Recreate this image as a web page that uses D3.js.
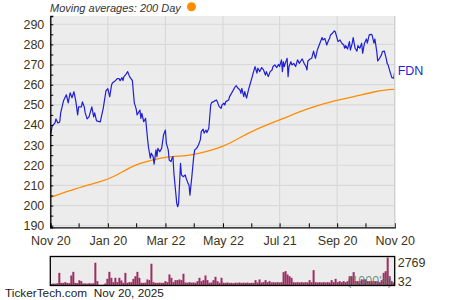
<!DOCTYPE html>
<html><head><meta charset="utf-8">
<script src="https://cdn.jsdelivr.net/npm/d3@7"></script>
<style>html,body{margin:0;padding:0;background:#fff;}svg{display:block;}</style>
</head><body>
<svg id="c" width="450" height="300"></svg>
<script>
// ---- data ----
const startDate = "2024-11-20";
const endDate = "2025-11-20";
const ticker = "FDN";
const tickLabelDates = ["2024-11-20","2025-01-20","2025-03-22","2025-05-22","2025-07-21","2025-09-20","2025-11-20"];
const tickLabels = ["Nov 20","Jan 20","Mar 22","May 22","Jul 21","Sep 20","Nov 20"];
const minorTickDates = ["2024-12-20","2025-02-19","2025-04-21","2025-06-21","2025-08-21","2025-10-20"];
const yTicks = [190,200,210,220,230,240,250,260,270,280,290];
const yMinorTicks = [195,205,215,225,235,245,255,265,275,285];
// price: day offsets from start and closing values
const priceDays = [0,2,5,6,8,10,11,14,17,19,21,23,25,27,29,30,33,34,36,37,39,41,44,46,47,49,53,55,56,57,59,61,63,65,66,69,71,73,74,76,77,78,80,82,84,87,89,91,92,95,96,97,99,101,103,104,106,107,109,110,112,113,114,116,118,120,122,123,125,126,128,129,130,131,133,134,135,136,137,138,139,141,143,144,146,147,148,150,152,153,155,157,159,160,162,163,165,166,168,170,171,173,176,177,179,181,182,184,185,186,189,190,192,194,196,197,199,201,202,203,205,206,208,210,212,213,215,217,219,220,222,224,226,228,229,231,233,235,236,238,240,242,243,245,246,247,248,249,251,252,253,255,256,258,260,262,264,265,267,269,271,272,273,275,277,279,280,281,283,285,287,288,289,291,293,295,296,297,299,301,302,304,305,307,309,311,312,313,315,317,318,320,321,323,325,326,328,330,331,333,335,336,338,340,341,343,344,346,347,349,351,352,354,356,357,358,360,362,364,365];
const priceValues = [234.2,239.5,241,243,241,241.5,246,252,255,251,256,253.5,256.5,252,245,249,249,251.5,249,246,243,244,249,244,246,242,241.5,246,248,251,257,258,254,260,261,262,263,263,262,263.5,262,264,265,266.5,264,262,251,248,245,247.4,243.3,245.8,241.6,243.3,233.4,229.2,223.5,226,224.3,220.6,227.6,224.3,228.4,226.7,228.4,235,237.5,230.9,227.6,222.6,221.8,223.5,224.3,216,206.1,201.1,199.4,201.1,211,221,215.2,214.3,215.2,213.5,211,210.2,205.2,214.3,224.3,227.6,228.4,230.1,232.6,236.7,237.9,235.9,237.5,236.2,238.4,249.9,251.1,251.6,252.4,251.6,249.1,248.3,249.9,250.8,249.9,251.6,252.4,254.1,255.7,257.4,259,259.5,258.2,257.4,255.7,258.2,254.1,256.6,253.3,257.4,260.7,262.3,265.7,269,265.7,268.2,266.5,268.5,267.3,264.8,266.5,264,266.5,267.3,269,269.8,268.5,270.1,269,272.3,266.5,271.4,269,270.6,273.1,264,269,271.4,269.8,270.6,269,272.3,270.6,271.4,272.8,270.6,269,267.3,271.8,272.6,273.1,276.7,274.8,273.1,277.2,279.7,282.2,283.4,282.2,283,279.7,282.2,283,284.7,285.5,286.7,286.3,283,281.4,282.2,280.6,279.7,278.1,279.4,277.7,281.4,277.2,280.6,283.4,278.1,276.7,279.4,278.1,280.6,275.6,280.6,282.7,280.6,284.7,285,284.7,280.6,282.7,276.4,271.8,273.1,274.8,276.4,276.7,273.1,270.6,269.8,266.5,263.5,263.2,266.5];
// 200-day moving average
const maDays = [0,28,53,67,88,106,123,145,159,170,185,200,220,245,273,304,319,344,355,365];
const maValues = [204.1,208.6,211.8,214,220.1,222.3,224.3,224.6,226,227.3,229.6,233.5,238.4,242.8,248.3,252.4,253.7,256.6,257.4,257.7];
// volume (thousands), evenly spaced over the period
const volumeValues = [150,200,180,220,1250,260,260,330,250,230,990,1350,260,240,520,430,200,210,190,230,200,220,2250,430,80,60,90,200,660,1350,760,330,760,330,760,500,270,1250,270,330,330,660,920,1350,760,270,260,280,600,530,2150,330,270,260,280,260,270,430,330,1090,760,330,530,530,600,530,1160,300,270,330,280,300,270,430,760,430,530,990,530,270,300,530,860,430,270,760,280,260,300,250,270,230,280,260,300,250,280,260,290,250,270,260,530,300,600,300,330,530,330,430,300,330,300,330,300,330,1320,1420,1090,920,760,330,300,330,300,330,300,330,300,530,330,1520,330,300,330,300,330,300,330,300,530,330,660,330,430,330,430,330,430,920,920,1320,430,430,430,600,600,600,430,430,430,430,430,430,330,530,1250,1420,2769,920,430,300];
const volMax = 2769, volMin = 32;

// ---- drawing ----
const svg = d3.select("#c");
const font = "'Liberation Sans', Arial, sans-serif";
const textCol = "#3d3418";
const parse = d3.timeParse("%Y-%m-%d");
const t0 = parse(startDate), t1 = parse(endDate);
const L = 50.3, R = 394.7, T = 16, B = 227.3;
const x = d3.scaleTime().domain([t0, t1]).range([L, R]);
const y = d3.scaleLinear().domain([189.2, 294.1]).range([B, T]);

svg.append("rect").attr("x", L).attr("y", T).attr("width", R - L).attr("height", B - T).attr("fill", "#ececec");
const grid = svg.append("g").attr("stroke", "#d9d9d9").attr("stroke-width", 1.2);
yTicks.forEach(v => grid.append("line").attr("x1", L).attr("x2", R).attr("y1", y(v)).attr("y2", y(v)));
tickLabelDates.forEach(d => grid.append("line").attr("x1", x(parse(d))).attr("x2", x(parse(d))).attr("y1", T).attr("y2", B));

svg.append("defs").append("clipPath").attr("id", "clip").append("rect")
  .attr("x", L).attr("y", T).attr("width", R - L).attr("height", B - T);

const ma = maDays.map((d, i) => ({ date: d3.timeDay.offset(t0, d), v: maValues[i] }));
const price = priceDays.map((d, i) => ({ date: d3.timeDay.offset(t0, d), v: priceValues[i] }));

svg.append("path").datum(ma).attr("clip-path", "url(#clip)")
  .attr("d", d3.line().x(d => x(d.date)).y(d => y(d.v)).curve(d3.curveBasis))
  .attr("fill", "none").attr("stroke", "#ff8c00").attr("stroke-width", 1.3);
svg.append("path").datum(price).attr("clip-path", "url(#clip)")
  .attr("d", d3.line().x(d => x(d.date)).y(d => y(d.v)))
  .attr("fill", "none").attr("stroke", "#1f1fd6").attr("stroke-width", 1.2).attr("stroke-linejoin", "round");

// axes
const yAxis = d3.axisLeft(y).tickValues(yTicks).tickSize(-3).tickPadding(6);
const gy = svg.append("g").attr("transform", `translate(${L},0)`).call(yAxis);
gy.select(".domain").attr("stroke", "#000").attr("stroke-width", 1.3);
gy.selectAll(".tick line").attr("stroke", "#000");
gy.selectAll("text").attr("font-family", font).attr("font-size", 12.5).attr("fill", textCol);
const gym = svg.append("g").attr("transform", `translate(${L},0)`)
  .call(d3.axisLeft(y).tickValues(yMinorTicks).tickSize(-3).tickFormat(""));
gym.select(".domain").remove();
gym.selectAll(".tick line").attr("stroke", "#000");

const xAxis = d3.axisBottom(x).tickValues(tickLabelDates.map(parse)).tickSize(-4).tickPadding(9)
  .tickFormat((d, i) => tickLabels[i]);
const gx = svg.append("g").attr("transform", `translate(0,${B})`).call(xAxis);
gx.select(".domain").attr("stroke", "#000").attr("stroke-width", 1.3);
gx.selectAll(".tick line").attr("stroke", "#000");
gx.selectAll("text").attr("font-family", font).attr("font-size", 12.5).attr("fill", textCol);
const gxm = svg.append("g").attr("transform", `translate(0,${B})`)
  .call(d3.axisBottom(x).tickValues(minorTickDates.map(parse)).tickSize(-4).tickFormat(""));
gxm.select(".domain").remove();
gxm.selectAll(".tick line").attr("stroke", "#000");

// right edge
svg.append("line").attr("x1", R).attr("x2", R).attr("y1", T).attr("y2", B).attr("stroke", "#d0d0d0").attr("stroke-width", 1.2);

// label
svg.append("text").attr("x", R + 3).attr("y", y(priceValues[priceValues.length - 1]) + 3.5)
  .attr("font-family", font).attr("font-size", 12.5).attr("fill", "#1f1fd6").text(ticker);

// title
svg.append("text").attr("x", 50).attr("y", 12).attr("font-family", font).attr("font-style", "italic")
  .attr("font-size", 11).attr("fill", "#333").text("Moving averages: 200 Day");
svg.append("circle").attr("cx", 191.5).attr("cy", 6.8).attr("r", 4.5).attr("fill", "#ff8c00");

// volume panel
const VT = 256.5, VB = 285.5;
const vx = d3.scaleBand().domain(d3.range(volumeValues.length)).range([L, R]).padding(0);
const vy = d3.scaleLinear().domain([0, volMax]).range([VB, VT + 1]);
svg.append("rect").attr("x", L).attr("y", VT).attr("width", R - L).attr("height", VB - VT).attr("fill", "#ececec");
svg.append("g").selectAll("rect").data(volumeValues).join("rect")
  .attr("x", (d, i) => vx(i)).attr("width", vx.bandwidth())
  .attr("y", d => vy(d)).attr("height", d => VB - vy(d)).attr("fill", "#9c2f62");
svg.append("text").attr("x", 392).attr("y", 285).attr("text-anchor", "end").attr("font-family", font)
  .attr("font-size", 12.5).attr("fill", "#5e8070").attr("fill-opacity", 0.85).text("(1000's)");
svg.append("rect").attr("x", L).attr("y", VT).attr("width", R - L).attr("height", VB - VT)
  .attr("fill", "none").attr("stroke", "#000").attr("stroke-width", 1.3);
svg.append("text").attr("x", R + 3).attr("y", 267).attr("font-family", font).attr("font-size", 12.5).attr("fill", textCol).text(d3.format("d")(volMax));
svg.append("text").attr("x", R + 3).attr("y", 286).attr("font-family", font).attr("font-size", 12.5).attr("fill", textCol).text(d3.format("d")(volMin));

// footer
svg.append("text").attr("x", 5).attr("y", 297).attr("font-family", font).attr("font-size", 11.8).attr("fill", "#222")
  .attr("xml:space", "preserve").style("white-space", "pre").text("TickerTech.com  Nov 20, 2025");
</script>
</body></html>
